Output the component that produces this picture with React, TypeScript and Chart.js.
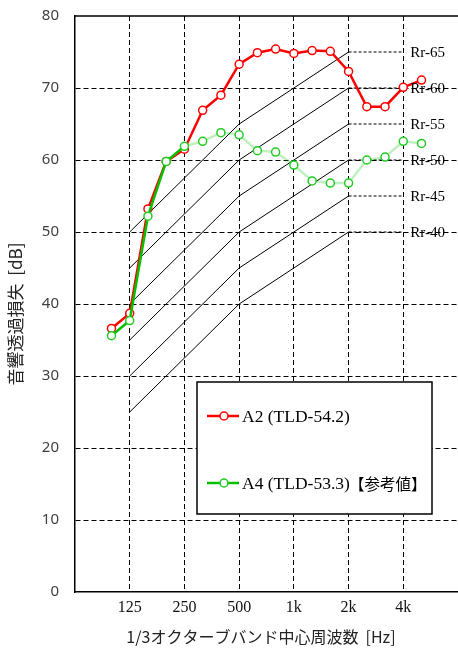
import React, { useEffect, useRef } from 'react';
import { Chart, registerables } from 'chart.js';

Chart.register(...registerables);

// Full 1/3-octave axis range (63 Hz .. 8 kHz)
const allBands = ['63', '80', '100', '125', '160', '200', '250', '315', '400', '500', '630', '800', '1k', '1.25k', '1.6k', '2k', '2.5k', '3.15k', '4k', '5k', '6.3k', '8k'];
const shownBands = ['125', '250', '500', '1k', '2k', '4k'];

// Measured bands and series
const measuredBands = ['100', '125', '160', '200', '250', '315', '400', '500', '630', '800', '1k', '1.25k', '1.6k', '2k', '2.5k', '3.15k', '4k', '5k'];
const a2Values = [36.6, 38.7, 53.2, 59.8, 61.5, 66.9, 69.0, 73.3, 74.9, 75.4, 74.8, 75.2, 75.1, 72.3, 67.4, 67.4, 70.1, 71.1];
const a4Values = [35.6, 37.7, 52.2, 59.8, 61.9, 62.6, 63.8, 63.5, 61.3, 61.1, 59.3, 57.1, 56.8, 56.8, 60.0, 60.4, 62.6, 62.3];

// Rr reference curves
const rrGrades = [40, 45, 50, 55, 60, 65];
const rrBands = ['125', '500', '2k', '4k'];
const rrOffsets = [-15, 0, 10, 10];

const a2Label = 'A2 (TLD-54.2)';
const a4Label = 'A4 (TLD-53.3)【参考値】';
const yTitle = '音響透過損失  [dB]';
const xTitle = '1/3オクターブバンド中心周波数  [Hz]';

const RED = '#ff0000';
const GREEN = '#00c000';
const GREEN_PT = '#22cc22';
const GREEN_PALE = 'rgba(0,200,0,0.25)';

const decorPlugin = {
  id: 'decor',
  afterDraw(chart: any) {
    const { ctx, chartArea: ca, scales } = chart;
    const xs = scales.x;
    const ys = scales.y;
    ctx.save();
    // top frame line
    ctx.strokeStyle = '#000';
    ctx.lineWidth = 1.5;
    ctx.setLineDash([]);
    ctx.beginPath();
    ctx.moveTo(ca.left, ca.top);
    ctx.lineTo(ca.right, ca.top);
    ctx.stroke();

    // Rr labels
    ctx.font = '15px "Liberation Serif", serif';
    ctx.fillStyle = '#000';
    ctx.textAlign = 'left';
    ctx.textBaseline = 'middle';
    const lx = xs.getPixelForValue(allBands.indexOf(rrBands[rrBands.length - 1])) + 7;
    rrGrades.forEach((g) => {
      const py = ys.getPixelForValue(g + rrOffsets[rrOffsets.length - 1]);
      ctx.fillText(`Rr-${g}`, lx, py + 1);
    });

    // Legend box
    const bx = ca.left + 122;
    const by = ca.top + 366;
    const bw = 235;
    const bh = 132;
    ctx.fillStyle = '#fff';
    ctx.fillRect(bx, by, bw, bh);
    ctx.strokeStyle = '#000';
    ctx.lineWidth = 1.5;
    ctx.strokeRect(bx, by, bw, bh);
    const items = [
      { label: a2Label, line: RED, pt: RED, y: by + 34 },
      { label: a4Label, line: GREEN, pt: GREEN_PT, y: by + 101 },
    ];
    items.forEach((it) => {
      ctx.strokeStyle = it.line;
      ctx.lineWidth = 2.5;
      ctx.beginPath();
      ctx.moveTo(bx + 10, it.y);
      ctx.lineTo(bx + 42, it.y);
      ctx.stroke();
      ctx.beginPath();
      ctx.arc(bx + 27, it.y, 4, 0, Math.PI * 2);
      ctx.fillStyle = '#fff';
      ctx.fill();
      ctx.lineWidth = 1.5;
      ctx.strokeStyle = it.pt;
      ctx.stroke();
      ctx.fillStyle = '#000';
      ctx.textAlign = 'left';
      ctx.textBaseline = 'middle';
      const cut = it.label.indexOf('【');
      const head = cut >= 0 ? it.label.slice(0, cut) : it.label;
      const tail = cut >= 0 ? it.label.slice(cut) : '';
      ctx.font = '17.5px "Liberation Serif", serif';
      ctx.fillText(head, bx + 45, it.y + 1);
      if (tail) {
        const w = ctx.measureText(head).width;
        ctx.font = '15.5px "Noto Sans CJK JP", sans-serif';
        ctx.fillText(tail, bx + 45 + w - 1, it.y + 1);
      }
    });

    // Axis titles
    ctx.fillStyle = '#222';
    ctx.font = '16px "Noto Sans CJK JP", sans-serif';
    ctx.textAlign = 'center';
    ctx.textBaseline = 'middle';
    ctx.fillText(xTitle, 261, 637);

    ctx.save();
    ctx.translate(16, 314);
    ctx.rotate(-Math.PI / 2);
    ctx.font = '17px "Noto Sans CJK JP", sans-serif';
    ctx.fillText(yTitle, 0, 0);
    ctx.restore();

    ctx.restore();
  },
};

export default function App() {
  const canvasRef = useRef<HTMLCanvasElement | null>(null);

  useEffect(() => {
    if (!canvasRef.current) return;

    const rrDatasets = rrGrades.map((g) => ({
      label: `Rr-${g}`,
      data: rrBands.map((b, i) => ({ x: b, y: g + rrOffsets[i] })),
      borderColor: '#000',
      borderWidth: 1,
      pointRadius: 0,
      tension: 0,
      order: 2,
      segment: {
        borderDash: (c: any) => (c.p0DataIndex === rrBands.length - 2 ? [3, 2] : undefined),
      },
    }));

    const chart = new Chart(canvasRef.current, {
      type: 'line',
      data: {
        labels: allBands,
        datasets: [
          {
            label: a2Label,
            data: measuredBands.map((b, i) => ({ x: b, y: a2Values[i] })),
            borderColor: RED,
            borderWidth: 2.5,
            pointRadius: 4,
            pointBackgroundColor: '#fff',
            pointBorderColor: RED,
            pointBorderWidth: 1.5,
            tension: 0,
            order: 1,
          },
          {
            label: a4Label,
            data: measuredBands.map((b, i) => ({ x: b, y: a4Values[i] })),
            borderColor: GREEN,
            borderWidth: 2.5,
            pointRadius: 4,
            pointBackgroundColor: '#fff',
            pointBorderColor: GREEN_PT,
            pointBorderWidth: 1.5,
            tension: 0,
            order: 0,
            segment: {
              borderColor: (c: any) => (c.p0DataIndex >= measuredBands.indexOf('250') ? GREEN_PALE : GREEN),
            },
          },
          ...rrDatasets,
        ] as any,
      },
      options: {
        responsive: false,
        animation: false,
        devicePixelRatio: 1,
        layout: { autoPadding: false, padding: { top: 16, right: 0, left: 0, bottom: 0 } },
        plugins: {
          legend: { display: false },
          tooltip: { enabled: false },
          title: { display: false },
        },
        scales: {
          x: {
            type: 'category',
            offset: false,
            afterFit: (s: any) => {
              s.height = 56;
              s.paddingLeft = 0;
              s.paddingRight = 0;
            },
            grid: {
              drawTicks: false,
              lineWidth: 1,
              color: (c: any) => {
                const lab = allBands[c.index];
                return c.index > 0 && shownBands.includes(lab) ? '#000' : 'rgba(0,0,0,0)';
              },
            },
            border: { display: true, color: '#000', width: 1.5, dash: [5, 3] },
            ticks: {
              autoSkip: false,
              maxRotation: 0,
              minRotation: 0,
              padding: 6,
              color: '#111',
              font: { family: '"Liberation Serif", serif', size: 16 },
              callback: (_v: any, i: number) => (shownBands.includes(allBands[i]) ? allBands[i] : ''),
            },
          },
          y: {
            type: 'linear',
            min: 0,
            max: 80,
            afterFit: (s: any) => {
              s.width = 75;
              s.paddingTop = 0;
              s.paddingBottom = 0;
            },
            grid: {
              drawTicks: false,
              lineWidth: 1,
              color: (c: any) => {
                const v = c.tick ? c.tick.value : 0;
                return v === 0 || v === 80 ? 'rgba(0,0,0,0)' : '#000';
              },
            },
            border: { display: true, color: '#000', width: 1.5, dash: [5, 3] },
            ticks: {
              stepSize: 10,
              padding: 16,
              color: '#404040',
              font: { family: '"Noto Sans", sans-serif', size: 15 },
            },
          },
        },
      },
      plugins: [decorPlugin],
    } as any);

    return () => chart.destroy();
  }, []);

  return (
    <div style={{ position: 'absolute', left: 0, top: 0, width: 458, height: 648, background: '#fff', overflow: 'hidden' }}>
      <canvas ref={canvasRef} width={458} height={648} style={{ display: 'block' }} />
    </div>
  );
}
